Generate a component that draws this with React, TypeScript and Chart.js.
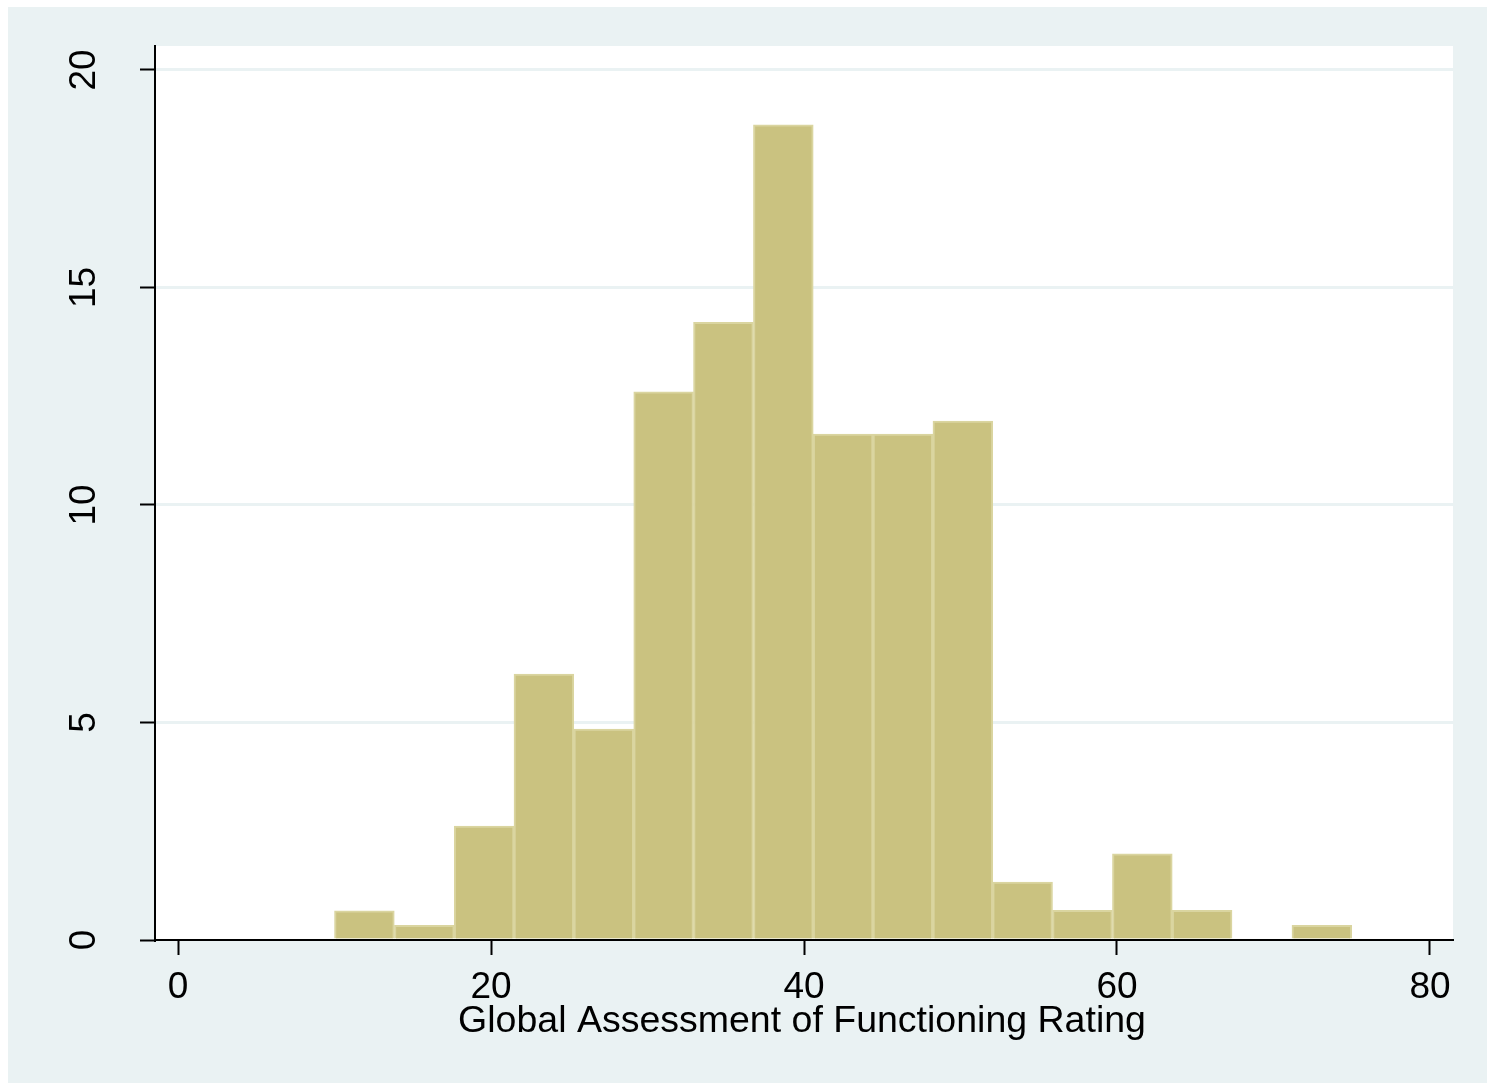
import React, { useEffect, useRef } from "react";
import { Chart, registerables } from "chart.js";

Chart.register(...registerables);

// Histogram bins (bin centres on the GAF scale) and percent heights
const binCenters = [11.91, 15.74, 19.56, 23.38, 27.21, 31.03, 34.85, 38.68, 42.5, 46.32, 50.15, 53.97, 57.79, 61.62, 65.44, 69.26, 73.09];
const percents = [0.67, 0.34, 2.62, 6.11, 4.85, 12.6, 14.2, 18.74, 11.63, 11.63, 11.93, 1.33, 0.68, 1.98, 0.68, 0, 0.34];
const xTickValues = [0, 20, 40, 60, 80];
const yTickValues = [0, 5, 10, 15, 20];
const xTitle = "Global Assessment of Functioning Rating";

const BG = "rgb(234,242,243)";
const FILL = "rgb(202,194,128)";
const OUTLINE = "rgb(218,213,160)";
const FONT = '37px "Liberation Sans", Arial, sans-serif';
const TITLE_FONT = '37.5px "Liberation Sans", Arial, sans-serif';

const W = 1479;
const H = 1076;

export default function App() {
  const ref = useRef<HTMLCanvasElement | null>(null);

  useEffect(() => {
    if (!ref.current) return;
    const decor = {
      id: "stataDecor",
      beforeDraw(chart: any) {
        const { ctx, chartArea: a } = chart;
        ctx.save();
        ctx.fillStyle = BG;
        ctx.fillRect(0, 0, chart.width, chart.height);
        ctx.fillStyle = "#ffffff";
        ctx.fillRect(a.left, a.top, a.right - a.left, a.bottom - a.top);
        ctx.restore();
      },
      afterDraw(chart: any) {
        const { ctx, chartArea: a } = chart;
        const xs = chart.scales.x;
        const ys = chart.scales.y;
        ctx.save();
        ctx.fillStyle = "#000";
        ctx.font = FONT;
        ctx.textAlign = "center";
        ctx.textBaseline = "alphabetic";
        xTickValues.forEach((v) => {
          ctx.fillText(String(v), xs.getPixelForValue(v), 991);
        });
        yTickValues.forEach((v) => {
          ctx.save();
          ctx.translate(87, ys.getPixelForValue(v));
          ctx.rotate(-Math.PI / 2);
          ctx.fillText(String(v), 0, 0);
          ctx.restore();
        });
        ctx.font = TITLE_FONT;
        ctx.fillText(xTitle, (a.left + a.right) / 2 - 2, 1025);
        ctx.restore();
      },
    };

    const chart = new Chart(ref.current, {
      type: "bar",
      data: {
        datasets: [
          {
            data: binCenters.map((c, i) => ({ x: c, y: percents[i] })),
            backgroundColor: FILL,
            borderColor: OUTLINE,
            borderWidth: 2,
            borderSkipped: "start",
            barPercentage: 1,
            categoryPercentage: 1,
          },
        ],
      },
      options: {
        responsive: false,
        animation: false,
        layout: { padding: { left: 0, top: 39, right: 34, bottom: 0 } },
        plugins: { legend: { display: false }, tooltip: { enabled: false } },
        scales: {
          x: {
            type: "linear",
            offset: false,
            min: -1.47,
            max: 81.47,
            afterFit: (s: any) => {
              s.height = 143;
            },
            afterBuildTicks: (s: any) => {
              s.ticks = xTickValues.map((v) => ({ value: v }));
            },
            ticks: { display: false },
            grid: {
              offset: false,
              drawOnChartArea: false,
              drawTicks: true,
              tickLength: 15,
              tickColor: "#000",
              tickWidth: 2,
            },
            border: { color: "#000", width: 2 },
          },
          y: {
            type: "linear",
            min: 0,
            max: 20.55,
            afterFit: (s: any) => {
              s.width = 147;
            },
            afterBuildTicks: (s: any) => {
              s.ticks = yTickValues.map((v) => ({ value: v }));
            },
            ticks: { display: false },
            grid: {
              color: (c: any) => (c.tick && c.tick.value === 0 ? "rgba(0,0,0,0)" : BG),
              lineWidth: 3,
              drawTicks: true,
              tickLength: 15,
              tickColor: "#000",
              tickWidth: 2,
            },
            border: { color: "#000", width: 2 },
          },
        },
      },
      plugins: [decor],
    } as any);
    return () => chart.destroy();
  }, []);

  return (
    <div style={{ position: "fixed", left: 8, top: 7, width: W, height: H, background: BG }}>
      <canvas ref={ref} width={W} height={H} style={{ width: W, height: H, display: "block" }} />
    </div>
  );
}
